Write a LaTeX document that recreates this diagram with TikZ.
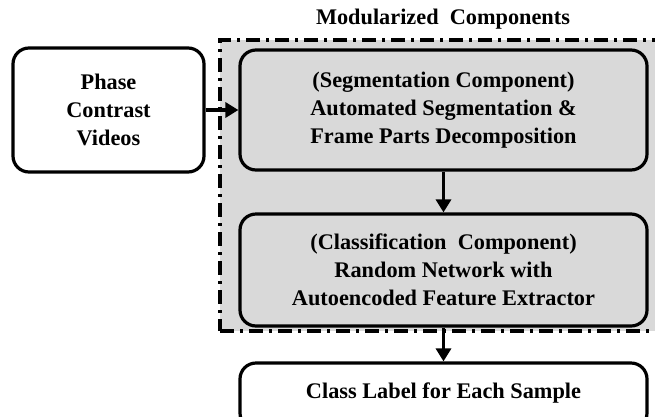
\documentclass[tikz,border=0pt]{standalone}
\usepackage{fontspec}
\setmainfont{Liberation Serif}
\usetikzlibrary{arrows.meta}
\definecolor{boxgray}{RGB}{217,217,217}
\begin{document}
\begin{tikzpicture}[x=1pt,y=-1pt,
  blk/.style={draw=black, line width=3.2pt, rounded corners=16pt, align=center, font=\bfseries\fontsize{22.3}{28}\selectfont, inner sep=0pt},
  conn/.style={line width=3.8pt, -{Triangle[length=13pt,width=15pt]}}]
\useasboundingbox (0,0) rectangle (655,416);
\clip (0,0) rectangle (655,416);
\node[font=\bfseries\fontsize{22.3}{28}\selectfont] (title) at (443,19) {Modularized\ \ Components};
\node[draw=black, fill=boxgray, line width=3.2pt, dash pattern=on 14pt off 6pt on 3pt off 6pt, minimum width=440pt, minimum height=291pt, inner sep=0pt] (cont) at (440,185.5) {};
\node[blk, fill=white, minimum width=191pt, minimum height=124pt] (phase) at (108.5,110) {Phase\\Contrast\\Videos};
\node[blk, fill=boxgray, minimum width=407pt, minimum height=120pt] (seg) at (443.5,110) {(Segmentation Component)\\Automated Segmentation \&\\Frame Parts Decomposition};
\node[blk, fill=boxgray, minimum width=407pt, minimum height=112pt] (cls) at (443.5,270) {(Classification\ \ Component)\\Random Network with\\Autoencoded Feature Extractor};
\node[blk, fill=white, minimum width=407pt, minimum height=66pt] (lab) at (443.5,396) {};
\node[font=\bfseries\fontsize{22.3}{28}\selectfont] (labtxt) at (443.5,393) {Class Label for Each Sample};
\draw[conn] (phase.east) -- (seg.west);
\draw[conn] (seg.south) -- (cls.north);
\draw[conn] (cls.south) -- (lab.north);
\end{tikzpicture}
\end{document}
